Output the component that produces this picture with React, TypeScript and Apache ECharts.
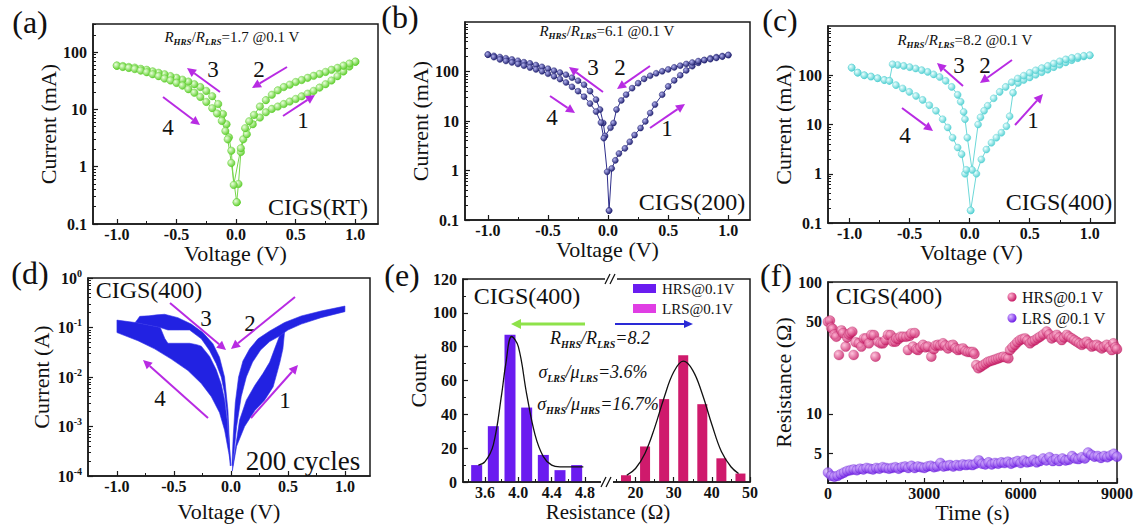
import React, { useEffect, useRef } from 'react';
import * as echarts from 'echarts';

const SERIF = '"Liberation Serif", "Times New Roman", serif';

// ---------- Panel (a) CIGS(RT): [V, I(mA)] ----------
const A_P1 = [[0.005,0.24],[0.02,0.5],[0.04,1.8],[0.06,3.0],[0.09,3.7],[0.14,5.5],[0.2,7.2],[0.25,8.9],[0.3,10.2],[0.35,11.2],[0.4,12.4],[0.45,13.7],[0.5,15.2],[0.55,16.9],[0.6,18.8],[0.65,21],[0.7,24],[0.75,27.5],[0.8,32],[0.85,38],[0.9,46],[0.95,56],[1.0,68]];
const A_P2 = [[1.0,68],[0.95,63],[0.9,58],[0.85,53],[0.8,49],[0.75,45],[0.7,41.5],[0.65,38.5],[0.6,35.5],[0.55,32.5],[0.5,30],[0.45,27],[0.4,24.5],[0.35,21.5],[0.3,18],[0.25,14.5],[0.2,11.2],[0.15,8],[0.11,6.2],[0.076,4.7],[0.04,2.1]];
const A_P3 = [[-0.02,0.48],[-0.04,1.9],[-0.06,3.25],[-0.08,5.5],[-0.11,8.3],[-0.15,12.4],[-0.2,17],[-0.25,21],[-0.3,24.5],[-0.35,27.5],[-0.4,30.5],[-0.45,33],[-0.5,35.5],[-0.55,38],[-0.6,41],[-0.65,43.5],[-0.7,46],[-0.75,49],[-0.8,51],[-0.85,53.5],[-0.9,55],[-0.95,57],[-1.0,58]];
const A_P4 = [[-1.0,58],[-0.95,55],[-0.9,53],[-0.85,50.5],[-0.8,47.5],[-0.75,44.5],[-0.7,41],[-0.65,38],[-0.6,34.5],[-0.55,32],[-0.5,29],[-0.45,26],[-0.4,22.5],[-0.35,19.5],[-0.3,16.5],[-0.25,13.5],[-0.2,10.5],[-0.16,8.5],[-0.12,6.3],[-0.09,4.2],[-0.07,3.0],[-0.04,1.16],[0.005,0.24]];

// ---------- Panel (b) CIGS(200) ----------
const B_P1 = [[0.008,0.155],[0.03,1.1],[0.06,1.6],[0.09,2.2],[0.14,2.8],[0.18,3.8],[0.22,5.2],[0.27,7.2],[0.31,9.8],[0.35,14.5],[0.39,21.5],[0.45,34],[0.5,50],[0.55,66],[0.6,84],[0.65,105],[0.7,128],[0.75,150],[0.8,170],[0.85,185],[0.9,195],[0.95,205],[1.0,215]];
const B_P2 = [[1.0,215],[0.95,200],[0.9,188],[0.85,177],[0.8,170],[0.75,162],[0.7,152],[0.65,142],[0.6,131],[0.55,121],[0.5,110],[0.45,101],[0.4,92],[0.35,82],[0.3,71],[0.25,58],[0.2,46],[0.15,34],[0.11,26],[0.07,17],[0.045,9.1],[0.02,7.3]];
const B_P3 = [[-0.025,5.0],[-0.04,9.1],[-0.067,17],[-0.1,27],[-0.15,40],[-0.2,54],[-0.25,65],[-0.3,75],[-0.35,86],[-0.4,95],[-0.45,104],[-0.5,114],[-0.55,124],[-0.6,135],[-0.65,146],[-0.7,154],[-0.75,165],[-0.8,175],[-0.85,185],[-0.9,196],[-0.95,207],[-1.0,219]];
const B_P4 = [[-1.0,219],[-0.95,195],[-0.9,175],[-0.85,163],[-0.8,152],[-0.75,142],[-0.7,131],[-0.65,120],[-0.6,110],[-0.55,101],[-0.5,90],[-0.45,80],[-0.4,70],[-0.35,60],[-0.3,49],[-0.25,40],[-0.2,31],[-0.15,22.5],[-0.1,15.5],[-0.06,9.3],[-0.036,4.5],[-0.008,0.94],[0.008,0.155]];

// ---------- Panel (c) CIGS(400) ----------
const C_P1 = [[0.008,0.18],[0.056,1.0],[0.097,1.95],[0.139,3.1],[0.181,4.25],[0.222,5.4],[0.264,6.8],[0.306,9.2],[0.333,14.7],[0.361,44],[0.403,70],[0.45,80],[0.5,90],[0.55,102],[0.6,115],[0.65,130],[0.7,146],[0.75,163],[0.8,182],[0.85,202],[0.9,222],[0.95,240],[1.0,254]];
const C_P2 = [[1.0,254],[0.95,248],[0.9,238],[0.85,225],[0.8,210],[0.75,192],[0.7,173],[0.65,155],[0.6,140],[0.55,126],[0.5,112],[0.45,98],[0.4,86],[0.35,72],[0.3,58],[0.25,46],[0.2,34],[0.15,24],[0.12,19],[0.09,14],[0.07,10],[0.02,1.2]];
const C_P3 = [[-0.02,5.4],[-0.039,12.8],[-0.05,18],[-0.075,29],[-0.1,40],[-0.15,58],[-0.2,77],[-0.25,92],[-0.3,104],[-0.35,117],[-0.4,127],[-0.45,137],[-0.5,146],[-0.55,155],[-0.6,162],[-0.642,167],[-0.669,77],[-0.711,80],[-0.767,87],[-0.822,94],[-0.878,100],[-0.933,113],[-0.983,143]];
const C_P4 = [[-0.983,143],[-0.933,113],[-0.878,100],[-0.822,94],[-0.767,87],[-0.711,80],[-0.669,77],[-0.614,63],[-0.558,54],[-0.503,46],[-0.447,38],[-0.392,31.6],[-0.336,24.6],[-0.281,19],[-0.225,12.8],[-0.183,8.7],[-0.142,5.4],[-0.1,3.4],[-0.067,2.5],[-0.039,1.0],[-0.028,1.2],[0.008,0.18]];

// ---------- Panel (d) 200 cycles: outlines of the swept bands [V, I(A)] ----------
const D_SET_RIGHT = [[0.015,1.6e-4],[0.076,1.35e-3],[0.135,3.4e-3],[0.21,6.8e-3],[0.28,1.17e-2],[0.34,2.0e-2],[0.383,3.7e-2],[0.427,6.8e-2],[0.47,7.9e-2],[0.456,3.7e-2],[0.43,2.0e-2],[0.41,1.35e-2],[0.37,6.3e-3],[0.295,3.4e-3],[0.21,2.1e-3],[0.12,1.0e-3],[0.05,4.0e-4],[0.012,1.26e-4]];
const D_RESET_RIGHT = [[0.009,1.7e-4],[0.02,6.3e-4],[0.038,3.0e-3],[0.067,1.0e-2],[0.105,2.1e-2],[0.164,3.7e-2],[0.237,5.9e-2],[0.34,8.5e-2],[0.47,0.126],[0.617,0.171],[0.79,0.215],[1.0,0.271],[1.0,0.209],[0.79,0.158],[0.617,0.117],[0.5,8.9e-2],[0.43,6.8e-2],[0.34,5.2e-2],[0.26,3.5e-2],[0.19,2.0e-2],[0.135,1.0e-2],[0.09,4.0e-3],[0.05,1.0e-3],[0.015,1.6e-4]];
const D_UPPER_LEFT = [[-0.005,1.6e-4],[-0.026,2.1e-3],[-0.056,1.0e-2],[-0.1,2.5e-2],[-0.158,4.7e-2],[-0.246,7.9e-2],[-0.348,0.117],[-0.465,0.158],[-0.582,0.185],[-0.65,0.18],[-0.72,0.172],[-0.8,0.168],[-0.82,0.145],[-0.84,0.126],[-0.62,0.1],[-0.553,8.9e-2],[-0.45,8.9e-2],[-0.363,8.9e-2],[-0.26,5.9e-2],[-0.187,3.4e-2],[-0.129,1.86e-2],[-0.085,1.0e-2],[-0.056,4.7e-3],[-0.032,1.6e-3],[-0.015,4.7e-4]];
const D_LOWER_LEFT = [[-1.0,0.141],[-0.84,0.126],[-0.62,0.1],[-0.58,6.0e-2],[-0.553,4.8e-2],[-0.363,4.8e-2],[-0.3,4.5e-2],[-0.26,4.2e-2],[-0.187,2.6e-2],[-0.129,1.4e-2],[-0.085,7.1e-3],[-0.056,3.5e-3],[-0.032,1.26e-3],[-0.015,4.0e-4],[0.0,1.6e-4],[-0.02,3.0e-4],[-0.056,8.5e-4],[-0.1,1.9e-3],[-0.172,4.0e-3],[-0.26,7.4e-3],[-0.377,1.35e-2],[-0.523,2.3e-2],[-0.67,3.7e-2],[-0.816,5.4e-2],[-1.0,7.9e-2]];

// ---------- Panel (e) histogram ----------
const E_LOW_BINS = [3.5,3.7,3.9,4.1,4.3,4.5,4.7];
const E_LOW_COUNT = [10,33,87,44,16,7,10];
const E_HIGH_BINS = [17.5,22.5,27.5,32.5,37.5,42.5,47.5];
const E_HIGH_COUNT = [4,21,49,75,46,14,5];
const E_LOW_FIT = [[3.52,10],[3.6,12],[3.7,22],[3.8,52],[3.85,70],[3.92,86],[4.0,80],[4.1,52],[4.2,28],[4.3,15],[4.4,10],[4.5,9],[4.6,9],[4.78,9]];
const E_HIGH_FIT = [[17.7,4],[20,8],[22.5,17],[25,32],[27.5,50],[30,65],[32.5,71.4],[35,66],[37.5,52],[40,34],[42.5,18],[45,9],[47,5]];

// ---------- Panel (f) retention [t(s), R(Ohm)] ----------
const F_HRS = [[0,50],[60,51],[100,45],[150,44],[200,40],[260,38.5],[340,28],[420,43],[470,41],[550,32.4],[600,38],[650,40],[700,41],[757,42],[800,28],[860,35],[960,34.3],[1040,32.4],[1120,37.3],[1190,37.4],[1275,34.3],[1350,39.7],[1430,39.6],[1480,27.2],[1560,35.3],[1640,34.3],[1713,34.3],[1794,36.3],[1868,39.7],[1950,39.6],[2024,35.3],[2105,35.3],[2128,37.4],[2200,37],[2260,38.5],[2340,38.5],[2440,38.5],[2490,30.5],[2540,39],[2595,40.8],[2647,32.4],[2700,41],[2750,31],[2803,30.5],[2880,32],[2958,33.4],[3040,32],[3114,32.4],[3218,27.2],[3300,31],[3350,33],[3425,33.4],[3500,33],[3581,34.3],[3650,33],[3737,31.4],[3810,33],[3892,33.4],[3970,31.5],[4048,30.5],[4120,31],[4203,31.4],[4280,30],[4359,29.5],[4440,29.5],[4515,29.5],[4560,28.5],[4619,23.5],[4683,22.2],[4760,22.8],[4839,23.5],[4920,24.2],[4994,24.9],[5070,25.2],[5150,25.6],[5230,26],[5305,26.4],[5380,26.8],[5461,27.2],[5540,26.8],[5617,26.4],[5669,30.5],[5745,32],[5825,33.4],[5900,35],[5981,36.3],[6060,37],[6137,37.4],[6210,36],[6292,34.3],[6370,35.5],[6448,36.3],[6530,37.5],[6604,38.5],[6700,40],[6811,42.1],[6890,40],[6967,37.4],[7045,38.5],[7123,39.7],[7200,38],[7279,36.3],[7357,38],[7435,39.7],[7510,38.5],[7590,37.4],[7670,36.3],[7746,35.3],[7825,34.3],[7902,33.4],[7980,34.3],[8058,35.3],[8135,33.8],[8213,32.4],[8290,33],[8369,33.4],[8450,32.4],[8525,31.4],[8600,32.4],[8681,33.4],[8760,32],[8836,30.5],[8888,34.3],[8950,32],[9000,31]];
const F_LRS_STEP = 100;
const F_LRS = [3.6,3.4,3.35,3.4,3.5,3.6,3.7,3.75,3.8,3.75,3.85,3.8,3.9,3.85,3.8,3.9,3.85,3.95,3.9,3.85,3.9,3.95,3.85,3.95,4.0,3.9,4.05,3.9,4.0,3.95,3.9,4.0,4.05,3.95,4.0,4.25,4.0,4.05,4.1,4.0,4.1,4.05,4.15,4.1,4.15,4.1,4.2,4.45,4.2,4.15,4.3,4.15,4.25,4.2,4.3,4.25,4.35,4.2,4.3,4.4,4.25,4.45,4.3,4.35,4.5,4.3,4.4,4.6,4.45,4.7,4.4,4.55,4.4,4.6,4.45,4.5,4.8,4.6,4.55,4.7,4.6,5.1,4.9,4.75,4.8,4.65,4.8,4.7,4.85,5.0,4.75];

// ---------- tick labels ----------
const V_LABELS = [-1, -0.5, 0, 0.5, 1];
const V_MINOR = [-0.75, -0.25, 0.25, 0.75];
const MA_LABELS = [0.1, 1, 10, 100];
const A_LABELS = [1e-4, 1e-3, 1e-2, 1e-1, 1];
const COUNT_LABELS = [0, 20, 40, 60, 80, 100, 120];
const LOW_R_LABELS = [3.6, 4.0, 4.4, 4.8];
const LOW_R_MINOR = [3.4, 3.8, 4.2, 4.6, 5.0];
const HIGH_R_LABELS = [20, 30, 40, 50];
const HIGH_R_MINOR = [15, 25, 35, 45];
const T_LABELS = [0, 3000, 6000, 9000];
const T_MINOR = [600, 1200, 1800, 2400, 3600, 4200, 4800, 5400, 6600, 7200, 7800, 8400];
const OHM_LABELS = [5, 10, 50, 100];

const lg = (v: number) => Math.log10(v);
const toLog = (arr: number[][]) => arr.map(([x, y]) => [x, lg(y)]);
const minorDecades = (lo: number, hi: number) => {
  const out: number[] = [];
  for (let e = lo; e < hi; e++) for (let m = 2; m <= 9; m++) out.push(e + lg(m));
  return out;
};

const LAB = { color: '#111', fontFamily: SERIF, fontWeight: 'bold', fontSize: 16 };
const NAME = { color: '#111', fontFamily: SERIF, fontSize: 22 };
const AXLINE = { show: true, onZero: false, lineStyle: { color: '#1a1a1a', width: 1.5 } };
const RICH = {
  b: { color: '#111', fontFamily: SERIF, fontWeight: 'bold', fontSize: 16, lineHeight: 20 },
  s: { color: '#111', fontFamily: SERIF, fontWeight: 'bold', fontSize: 10, lineHeight: 10, verticalAlign: 'top' },
};

function radial(light: string, dark: string) {
  return new echarts.graphic.RadialGradient(0.35, 0.35, 0.7, [
    { offset: 0, color: light },
    { offset: 1, color: dark },
  ]);
}

function buildOption() {
  const xAxis: any[] = [];
  const yAxis: any[] = [];
  const add = (list: any[], cfg: any) => { list.push(cfg); return list.length - 1; };

  function axis(list: any[], pos: string, grid: number, min: number, max: number, labels: number[], fmt: any, minor: number[], name: string, gap: number) {
    const idx = add(list, {
      gridIndex: grid, type: 'value', min, max, position: pos,
      axisLine: AXLINE, splitLine: { show: false },
      axisTick: { show: true, inside: true, length: 5, customValues: labels, lineStyle: { color: '#1a1a1a', width: 1.2 } },
      axisLabel: { ...LAB, margin: pos === 'left' ? 6 : 2, customValues: labels, formatter: fmt, rich: RICH },
      name, nameLocation: 'middle', nameGap: gap, nameTextStyle: NAME, nameRotate: pos === 'left' ? 90 : 0,
    });
    if (minor.length) {
      add(list, {
        gridIndex: grid, type: 'value', min, max, position: pos,
        axisLine: { show: false, onZero: false }, splitLine: { show: false }, axisLabel: { show: false },
        axisTick: { show: true, inside: true, length: 3, customValues: minor.filter((m) => m > min && m < max), lineStyle: { color: '#1a1a1a', width: 1 } },
      });
    }
    return idx;
  }

  const fmtV = (v: number) => v.toFixed(1);
  const fmtMA = (v: number) => { const e = Math.round(v); return e < 0 ? Math.pow(10, e).toFixed(-e) : String(Math.pow(10, e)); };
  const fmtPow = (v: number) => `{b|10}{s|${Math.round(v)}}`;
  const fmtOhm = (v: number) => String(Math.round(Math.pow(10, v)));
  const fmtInt = (v: number) => String(v);
  const fmtR1 = (v: number) => v.toFixed(1);

  const grids = [
    { left: 93, top: 24, width: 285, height: 200 },
    { left: 465, top: 22, width: 285, height: 198 },
    { left: 828, top: 26, width: 287, height: 197 },
    { left: 88, top: 278, width: 282, height: 198 },
    { left: 463, top: 279, width: 142, height: 203 },
    { left: 605, top: 279, width: 145, height: 203 },
    { left: 828, top: 282, width: 289, height: 201 },
  ].map((g, i) => ({ ...g, show: i !== 4 && i !== 5, borderColor: '#1a1a1a', borderWidth: 1.5, backgroundColor: 'transparent' }));

  const maLog = MA_LABELS.map(lg);
  // (a)
  const xa = axis(xAxis, 'bottom', 0, -1.2, 1.19, V_LABELS, fmtV, V_MINOR, 'Voltage (V)', 14);
  const ya = axis(yAxis, 'left', 0, -1, 2.49, maLog, fmtMA, minorDecades(-1, 3), 'Current (mA)', 33);
  // (b)
  const xb = axis(xAxis, 'bottom', 1, -1.19, 1.18, V_LABELS, fmtV, V_MINOR, 'Voltage (V)', 18);
  const yb = axis(yAxis, 'left', 1, -1, 3, maLog, fmtMA, minorDecades(-1, 3), 'Current (mA)', 32);
  // (c)
  const xc = axis(xAxis, 'bottom', 2, -1.18, 1.21, V_LABELS, fmtV, V_MINOR, 'Voltage (V)', 17);
  const yc = axis(yAxis, 'left', 2, -1, 3, maLog, fmtMA, minorDecades(-1, 3), 'Current (mA)', 30);
  // (d)
  const xd = axis(xAxis, 'bottom', 3, -1.254, 1.22, V_LABELS, fmtV, V_MINOR, 'Voltage (V)', 24);
  const yd = axis(yAxis, 'left', 3, -4, 0, A_LABELS.map(lg), fmtPow, minorDecades(-4, 0), 'Current (A)', 36);
  // (e) left / right halves of the broken axis
  const xe1 = axis(xAxis, 'bottom', 4, 3.336, 5.04, LOW_R_LABELS, fmtR1, LOW_R_MINOR, '', 0);
  const ye1 = axis(yAxis, 'left', 4, 0, 120, COUNT_LABELS, fmtInt, [10, 30, 50, 70, 90, 110], 'Count', 28);
  const xe2 = axis(xAxis, 'bottom', 5, 12, 50, HIGH_R_LABELS, fmtInt, HIGH_R_MINOR, '', 0);
  const ye2 = add(yAxis, { gridIndex: 5, type: 'value', min: 0, max: 120, show: false });
  // (f)
  const xf = axis(xAxis, 'bottom', 6, 0, 9000, T_LABELS, fmtInt, T_MINOR, 'Time (s)', 16);
  const yf = axis(yAxis, 'left', 6, lg(3), 2, OHM_LABELS.map(lg), fmtOhm, [], 'Resistance (Ω)', 30);

  const ivLine = (data: number[][], xi: number, yi: number, light: string, dark: string, line: string, size: number) => ({
    type: 'line', xAxisIndex: xi, yAxisIndex: yi, data: toLog(data),
    symbol: 'circle', symbolSize: size, showSymbol: true, clip: true,
    lineStyle: { color: line, width: 1 },
    itemStyle: { color: radial(light, dark), borderColor: dark, borderWidth: 0.4 },
    z: 3,
  });

  const BAND = '#2222e2';
  const band = (poly: number[][]) => {
    const data = toLog(poly);
    return {
      type: 'custom', xAxisIndex: xd, yAxisIndex: yd, data, clip: true, silent: true,
      renderItem: (params: any, api: any) => {
        if (params.dataIndex !== 0) return null;
        return { type: 'polygon', shape: { points: data.map((d) => api.coord(d)) }, style: { fill: BAND, stroke: '#3030e8', lineWidth: 0.6 } };
      },
    };
  };

  const series: any[] = [
    ivLine([...A_P1, ...A_P2, ...A_P3, ...A_P4], xa, ya, '#eaffdc', '#5ccd2a', '#76d64a', 7.5),
    ivLine([...B_P1, ...B_P2, ...B_P3, ...B_P4], xb, yb, '#b4b4f0', '#1c1c6c', '#2e2e8a', 6),
    ivLine([...C_P1, ...C_P2, ...C_P3, ...C_P4], xc, yc, '#eeffff', '#52d0d2', '#6cd8d8', 7),
    band(D_SET_RIGHT), band(D_RESET_RIGHT), band(D_UPPER_LEFT), band(D_LOWER_LEFT),
    { type: 'bar', name: 'HRS@0.1V', xAxisIndex: xe1, yAxisIndex: ye1, barWidth: 11, data: E_LOW_BINS.map((x, i) => [x, E_LOW_COUNT[i]]), itemStyle: { color: '#6a1cf0' } },
    { type: 'line', xAxisIndex: xe1, yAxisIndex: ye1, data: E_LOW_FIT, smooth: 0.4, showSymbol: false, lineStyle: { color: '#111', width: 1.3 }, z: 4 },
    { type: 'bar', name: 'LRS@0.1V', xAxisIndex: xe2, yAxisIndex: ye2, barWidth: 10, data: E_HIGH_BINS.map((x, i) => [x, E_HIGH_COUNT[i]]), itemStyle: { color: '#cf1a6c' } },
    { type: 'line', xAxisIndex: xe2, yAxisIndex: ye2, data: E_HIGH_FIT, smooth: 0.4, showSymbol: false, lineStyle: { color: '#111', width: 1.3 }, z: 4 },
    { type: 'scatter', name: 'HRS@0.1 V', xAxisIndex: xf, yAxisIndex: yf, data: toLog(F_HRS), symbolSize: 10, itemStyle: { color: radial('#ffb8d6', '#c4125e'), borderColor: '#b01055', borderWidth: 0.3 } },
    { type: 'scatter', name: 'LRS @0.1 V', xAxisIndex: xf, yAxisIndex: yf, data: toLog(F_LRS.map((r, i) => [i * F_LRS_STEP, r])), symbolSize: 10, itemStyle: { color: radial('#dcbcff', '#6814e4'), borderColor: '#5a10c8', borderWidth: 0.3 } },
  ];

  // ---------- graphic annotations ----------
  const G: any[] = [];
  const text = (x: number, y: number, t: string, size: number, o: any = {}) => G.push({
    type: 'text', x, y, z: 50,
    style: { text: t, fontFamily: SERIF, fontSize: size, fill: o.fill || '#111', align: o.align || 'center', verticalAlign: 'middle', fontWeight: o.weight || 'normal', fontStyle: o.style || 'normal', rich: o.rich },
  });
  const arrow = (x1: number, y1: number, x2: number, y2: number, color = '#b82be3', w = 2, hl = 9, hw = 4.5) => {
    const dx = x2 - x1, dy = y2 - y1, len = Math.hypot(dx, dy), ux = dx / len, uy = dy / len;
    const bx = x2 - ux * hl, by = y2 - uy * hl, px = -uy, py = ux;
    G.push({ type: 'line', z: 50, shape: { x1, y1, x2: bx, y2: by }, style: { stroke: color, lineWidth: w } });
    G.push({ type: 'polygon', z: 50, shape: { points: [[x2, y2], [bx + px * hw, by + py * hw], [bx - px * hw, by - py * hw]] }, style: { fill: color } });
  };

  // panel letters
  [['(a)', 30, 22], ['(b)', 400, 17], ['(c)', 780, 20], ['(d)', 30, 273], ['(e)', 402, 275], ['(f)', 776, 275]].forEach(([t, x, y]) => text(x as number, y as number, t as string, 32));

  // ratio annotations
  const ratioRich = {
    i: { fontFamily: SERIF, fontStyle: 'italic', fontSize: 15, fill: '#111', lineHeight: 18 },
    s: { fontFamily: SERIF, fontStyle: 'italic', fontWeight: 'bold', fontSize: 9, fill: '#111', lineHeight: 9, verticalAlign: 'bottom' },
    n: { fontFamily: SERIF, fontSize: 15, fill: '#111', lineHeight: 18 },
  };
  text(232, 37, '{i|R}{s|HRS}{n|/}{i|R}{s|LRS}{n|=1.7 @0.1 V}', 15, { rich: ratioRich });
  text(607, 31, '{i|R}{s|HRS}{n|/}{i|R}{s|LRS}{n|=6.1 @0.1 V}', 15, { rich: ratioRich });
  text(965, 40, '{i|R}{s|HRS}{n|/}{i|R}{s|LRS}{n|=8.2 @0.1 V}', 15, { rich: ratioRich });

  // sample labels
  text(318, 207, 'CIGS(RT)', 24);
  text(692, 202, 'CIGS(200)', 24);
  text(1059, 202, 'CIGS(400)', 24);
  text(149, 290, 'CIGS(400)', 24);
  text(303, 461, '200 cycles', 27);
  text(527, 296, 'CIGS(400)', 24);
  text(889, 296, 'CIGS(400)', 24);

  // sweep numbers and arrows
  const nums: [string, number, number][] = [
    ['3', 213, 69], ['2', 259, 69], ['1', 303, 120], ['4', 168, 127],
    ['3', 593, 67], ['2', 620, 67], ['1', 667, 128], ['4', 552, 117],
    ['3', 959, 65], ['2', 985, 65], ['1', 1033, 120], ['4', 905, 135],
    ['3', 206, 318], ['2', 250, 323], ['4', 160, 398], ['1', 285, 400],
  ];
  nums.forEach(([t, x, y]) => text(x, y, t, 23));
  arrow(220, 92, 187, 68); arrow(287, 67, 252, 88); arrow(283, 116, 315, 95); arrow(163, 97, 200, 125);
  arrow(603, 92, 569, 67); arrow(650, 66, 617, 89); arrow(650, 128, 685, 104); arrow(550, 96, 575, 113);
  arrow(963, 86, 937, 63); arrow(1012, 60, 980, 83); arrow(1015, 125, 1043, 94); arrow(902, 108, 933, 131);
  arrow(170, 303, 226, 350); arrow(295, 297, 231, 349); arrow(208, 418, 143, 360); arrow(251, 418, 298, 365);

  // (e) frame, break marks, legend, annotations
  G.push({ type: 'rect', z: 40, shape: { x: 463, y: 279, width: 287, height: 203 }, style: { fill: 'none', stroke: '#1a1a1a', lineWidth: 1.5 } });
  const brk = (cx: number, cy: number) => {
    G.push({ type: 'rect', z: 60, shape: { x: cx - 6, y: cy - 5, width: 12, height: 10 }, style: { fill: '#fff' } });
    G.push({ type: 'line', z: 61, shape: { x1: cx - 6, y1: cy + 5, x2: cx - 1, y2: cy - 5 }, style: { stroke: '#111', lineWidth: 1.3 } });
    G.push({ type: 'line', z: 61, shape: { x1: cx - 1, y1: cy + 5, x2: cx + 4, y2: cy - 5 }, style: { stroke: '#111', lineWidth: 1.3 } });
  };
  brk(607, 482); brk(611, 279);
  G.push({ type: 'rect', z: 50, shape: { x: 633, y: 284, width: 23, height: 9 }, style: { fill: '#6a1cf0' } });
  G.push({ type: 'rect', z: 50, shape: { x: 633, y: 304, width: 23, height: 9 }, style: { fill: '#e03ee4' } });
  text(662, 289, 'HRS@0.1V', 15, { align: 'left' });
  text(662, 309, 'LRS@0.1V', 15, { align: 'left' });
  arrow(585, 324, 511, 324, '#8ee24a', 3, 10, 5);
  arrow(615, 324, 693, 324, '#2a2ad6', 2, 9, 4);
  const sigRich = {
    i: { fontFamily: SERIF, fontStyle: 'italic', fontSize: 18, fill: '#111', lineHeight: 22 },
    s: { fontFamily: SERIF, fontStyle: 'italic', fontWeight: 'bold', fontSize: 10, fill: '#111', lineHeight: 10, verticalAlign: 'bottom' },
  };
  text(600, 338, '{i|R}{s|HRS}{i|/R}{s|LRS}{i|=8.2}', 18, { rich: sigRich });
  text(593, 372, '{i|σ}{s|LRS}{i|/μ}{s|LRS}{i|=3.6%}', 18, { rich: sigRich });
  text(598, 404, '{i|σ}{s|HRS}{i|/μ}{s|HRS}{i|=16.7%}', 18, { rich: sigRich });
  text(608, 512, 'Resistance (Ω)', 21);

  // (f) legend
  G.push({ type: 'circle', z: 50, shape: { cx: 1012, cy: 297, r: 4.5 }, style: { fill: radial('#ffb8d6', '#c4125e') } });
  G.push({ type: 'circle', z: 50, shape: { cx: 1012, cy: 318, r: 4.5 }, style: { fill: radial('#dcbcff', '#6814e4') } });
  text(1022, 297, 'HRS@0.1 V', 16, { align: 'left' });
  text(1022, 318, 'LRS @0.1 V', 16, { align: 'left' });

  return { animation: false, backgroundColor: '#fff', grid: grids, xAxis, yAxis, series, graphic: G };
}

export default function App() {
  const ref = useRef<HTMLDivElement>(null);
  useEffect(() => {
    document.body.style.margin = '0';
    const chart = echarts.init(ref.current!, null, { renderer: 'svg' });
    chart.setOption(buildOption() as any);
    return () => chart.dispose();
  }, []);
  return <div ref={ref} style={{ width: 1137, height: 528 }} />;
}
